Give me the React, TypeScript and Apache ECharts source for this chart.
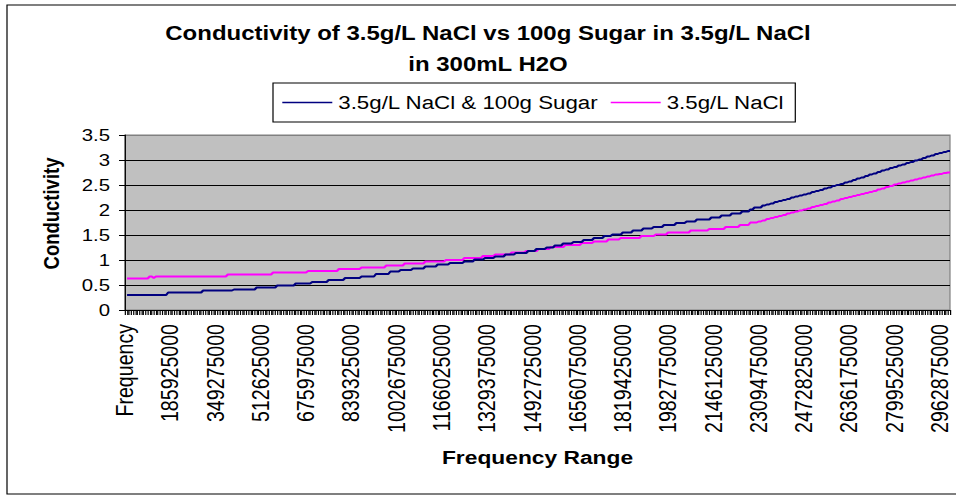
import { useEffect, useRef } from "react";
import * as echarts from "echarts";

// ---- data ----
const START_FREQ = 30000000;
const STEP_FREQ = 7425000;
const POINTS = 401;
const categories: string[] = [
  "Frequency",
  ...Array.from({ length: POINTS }, (_, i) => String(START_FREQ + i * STEP_FREQ)),
];

const seriesNames = ["3.5g/L NaCl & 100g Sugar", "3.5g/L NaCl"];

// plateaus: value and number of consecutive points at that value
const sugarLevels = [
  0.30, 0.35, 0.39, 0.41, 0.45, 0.49, 0.53, 0.56, 0.60, 0.64, 0.67, 0.72, 0.77, 0.80, 0.83, 0.87,
  0.91, 0.94, 0.97, 1.01, 1.04, 1.07, 1.11, 1.14, 1.18, 1.22, 1.25, 1.29, 1.33, 1.36, 1.40, 1.44,
  1.48, 1.51, 1.55, 1.59, 1.63, 1.66, 1.70, 1.74, 1.77, 1.81, 1.85, 1.89, 1.93, 1.97, 2.01, 2.05,
  2.09, 2.11, 2.13, 2.16, 2.18, 2.20, 2.22, 2.25, 2.27, 2.29, 2.31, 2.33, 2.36, 2.38, 2.40, 2.43,
  2.45, 2.48, 2.50, 2.52, 2.55, 2.57, 2.60, 2.63, 2.65, 2.68, 2.71, 2.73, 2.76, 2.79, 2.81, 2.84,
  2.86, 2.89, 2.91, 2.94, 2.96, 2.99, 3.01, 3.04, 3.07, 3.09, 3.12, 3.14, 3.16, 3.18,
];
const sugarCounts = [
  20, 17, 15, 11, 10, 9, 8, 8, 8, 8, 7, 7, 5, 6, 6, 6,
  6, 7, 5, 5, 5, 5, 5, 6, 4, 5, 4, 4, 5, 5, 5, 5,
  4, 5, 5, 5, 5, 5, 6, 5, 5, 7, 5, 5, 5, 4, 2, 4,
  2, 2, 2, 2, 2, 2, 2, 2, 2, 2, 2, 2, 2, 2, 2, 2,
  2, 2, 2, 2, 2, 2, 2, 2, 2, 2, 2, 2, 2, 2, 2, 2,
  2, 2, 2, 2, 2, 2, 2, 2, 2, 2, 2, 2, 2, 2,
];

const naclLevels = [
  0.63, 0.67, 0.64, 0.67, 0.71, 0.75, 0.78, 0.82, 0.85, 0.89, 0.93, 0.97, 1.00, 1.04, 1.08, 1.11,
  1.15, 1.18, 1.22, 1.26, 1.30, 1.34, 1.37, 1.41, 1.44, 1.48, 1.51, 1.55, 1.59, 1.62, 1.66, 1.70,
  1.75, 1.77, 1.79, 1.82, 1.84, 1.86, 1.88, 1.90, 1.93, 1.95, 1.97, 1.99, 2.01, 2.03, 2.06, 2.08,
  2.10, 2.12, 2.15, 2.17, 2.19, 2.22, 2.24, 2.26, 2.28, 2.30, 2.32, 2.34, 2.36, 2.38, 2.41, 2.43,
  2.46, 2.48, 2.51, 2.53, 2.55, 2.57, 2.59, 2.61, 2.63, 2.65, 2.67, 2.69, 2.71, 2.72, 2.74, 2.75,
];
const naclCounts = [
  11, 2, 1, 35, 22, 17, 15, 11, 12, 9, 10, 10, 9, 9, 6, 8,
  7, 6, 6, 7, 8, 6, 7, 6, 10, 7, 6, 11, 9, 8, 7, 5,
  4, 2, 2, 2, 2, 2, 2, 2, 2, 2, 2, 2, 2, 2, 2, 2,
  2, 2, 2, 2, 2, 2, 2, 2, 2, 2, 2, 2, 2, 2, 2, 2,
  2, 2, 2, 2, 2, 2, 2, 2, 2, 2, 2, 2, 2, 2, 2, 2,
];

const yMin = 0;
const yMax = 3.5;
const yStep = 0.5;

function expand(levels: number[], counts: number[]): (number | null)[] {
  const out: (number | null)[] = [null]; // "Frequency" header column has no value
  levels.forEach((v, i) => {
    for (let j = 0; j < counts[i]; j++) out.push(v);
  });
  return out;
}

const sugarData = expand(sugarLevels, sugarCounts);
const naclData = expand(naclLevels, naclCounts);

// ---- layout (picture is horizontally stretched) ----
const INNER_W = 797;
const H = 495;
const S = 956 / INNER_W;
const px = (x: number) => x / S;
const FONT = "'Liberation Sans', Arial, Helvetica, sans-serif";

export default function App() {
  const ref = useRef<HTMLDivElement>(null);

  useEffect(() => {
    if (!ref.current) return;
    const chart = echarts.init(ref.current, undefined, { renderer: "svg" });
    chart.setOption({
      animation: false,
      backgroundColor: "#ffffff",
      textStyle: { fontFamily: FONT, color: "#000" },
      grid: {
        left: px(125),
        right: INNER_W - px(950),
        top: 135,
        bottom: H - 310,
        show: true,
        backgroundColor: "#C0C0C0",
        borderColor: "#808080",
        borderWidth: 1,
        containLabel: false,
        outerBoundsMode: "none",
      },
      legend: {
        data: seriesNames,
        left: px(273),
        top: 83,
        orient: "horizontal",
        itemWidth: px(50),
        itemHeight: 20,
        itemGap: 9.3,
        padding: [10, 9, 10, 7],
        borderColor: "#000",
        borderWidth: 1,
        backgroundColor: "#fff",
        itemStyle: { opacity: 0 },
        lineStyle: { width: 1.5 },
        textStyle: { fontSize: 18.6, color: "#000", fontFamily: FONT },
      },
      xAxis: {
        type: "category",
        data: categories,
        boundaryGap: false,
        axisLine: { show: true, lineStyle: { color: "#000", width: 1 } },
        axisTick: { show: true, interval: 0, length: 5, lineStyle: { color: "#000", width: 1 } },
        axisLabel: {
          interval: 21,
          rotate: 90,
          fontSize: 19.6,
          color: "#000",
          margin: 14,
          fontFamily: FONT,
        },
        splitLine: { show: false },
        name: "Frequency Range",
        nameLocation: "middle",
        nameGap: 138,
        nameTextStyle: { fontSize: 19, fontWeight: "bold", color: "#000", fontFamily: FONT },
      },
      yAxis: {
        type: "value",
        min: yMin,
        max: yMax,
        interval: yStep,
        axisLine: { show: true, lineStyle: { color: "#000", width: 1 } },
        axisTick: { show: true, length: 5, lineStyle: { color: "#000", width: 1 } },
        axisLabel: { fontSize: 17, color: "#000", margin: 12.5, fontFamily: FONT },
        splitLine: {
          show: true,
          lineStyle: {
            color: ["#000", "#000", "#000", "#000", "#000", "#000", "#000", "#808080"],
            width: 1,
          },
        },
        name: "Conductivity",
        nameLocation: "middle",
        nameGap: 52,
        nameTextStyle: {
          fontSize: 18.5,
          fontWeight: "bold",
          color: "#000",
          fontFamily: FONT,
          padding: [0, 0, 0, 18],
        },
      },
      series: [
        {
          name: seriesNames[0],
          type: "line",
          data: sugarData,
          symbol: "none",
          showSymbol: false,
          connectNulls: false,
          lineStyle: { color: "#000080", width: 2 },
          itemStyle: { color: "#000080" },
          z: 3,
        },
        {
          name: seriesNames[1],
          type: "line",
          data: naclData,
          symbol: "none",
          showSymbol: false,
          connectNulls: false,
          lineStyle: { color: "#FF00FF", width: 2 },
          itemStyle: { color: "#FF00FF" },
          z: 2,
        },
      ],
      graphic: [
        {
          type: "rect",
          shape: { x: px(7), y: 5, width: 900, height: 489 },
          style: { fill: "none", stroke: "#000", lineWidth: 1 },
          silent: true,
        },
        {
          type: "text",
          x: px(488),
          y: 33,
          style: {
            text: "Conductivity of 3.5g/L NaCl vs 100g Sugar in 3.5g/L NaCl",
            fill: "#000",
            fontSize: 20,
            fontWeight: "bold",
            fontFamily: FONT,
            align: "center",
            verticalAlign: "middle",
          },
        },
        {
          type: "text",
          x: px(488),
          y: 64,
          style: {
            text: "in 300mL H2O",
            fill: "#000",
            fontSize: 20,
            fontWeight: "bold",
            fontFamily: FONT,
            align: "center",
            verticalAlign: "middle",
          },
        },
      ],
    });
    return () => chart.dispose();
  }, []);

  return (
    <div
      style={{
        position: "absolute",
        left: 0,
        top: 0,
        width: 956,
        height: H,
        overflow: "hidden",
        background: "#fff",
      }}
    >
      <div
        ref={ref}
        style={{
          width: INNER_W,
          height: H,
          transform: `scaleX(${S})`,
          transformOrigin: "0 0",
        }}
      />
    </div>
  );
}
